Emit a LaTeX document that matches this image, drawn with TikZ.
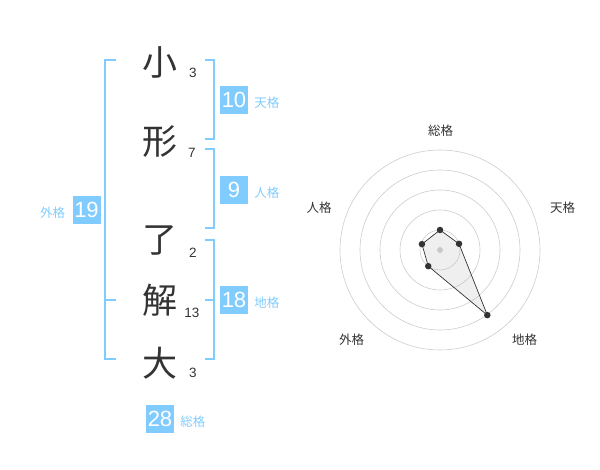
\documentclass[tikz,border=0pt]{standalone}
\usepackage{fontspec}
\setmainfont{Liberation Sans}
\newfontfamily\cjk{Noto Sans CJK JP}
\usetikzlibrary{positioning}
\definecolor{kakublue}{RGB}{128,204,255}
\definecolor{inkgray}{RGB}{51,51,51}

\begin{document}
\begin{tikzpicture}[
    x=1pt, y=-1pt,
    kanji/.style={font=\cjk\fontsize{35}{35}\selectfont, text=inkgray, inner sep=0pt},
    strokes/.style={font=\fontsize{13.5}{13.5}\selectfont, text=inkgray, inner sep=0pt},
    score/.style={fill=kakublue, text=white, minimum size=28pt, inner sep=0pt,
                  font=\fontsize{22}{22}\selectfont},
    kaku/.style={font=\cjk\fontsize{12.5}{12.5}\selectfont, text=kakublue, inner sep=0pt,
                 yshift=-3pt},
    brace/.style={draw=kakublue, line width=2pt},
    axislabel/.style={font=\cjk\fontsize{12.5}{12.5}\selectfont, text=inkgray, inner sep=0pt},
    ring/.style={draw=black!20, line width=0.6pt},
    dot/.style={circle, fill=inkgray, inner sep=0pt, minimum size=6.5pt},
]
  \useasboundingbox (0,0) rectangle (600,470);

  % name, one character per line
  \node[kanji] (c1) at (160,62) {小};
  \node[kanji] (c2) at (160,142) {形};
  \node[kanji] (c3) at (160,240) {了};
  \node[kanji] (c4) at (160,300) {解};
  \node[kanji] (c5) at (160,363) {大};

  \node[strokes] (s1) at (193,73) {3};
  \node[strokes] (s2) at (192,153) {7};
  \node[strokes] (s3) at (193,253) {2};
  \node[strokes] (s4) at (192,313) {13};
  \node[strokes] (s5) at (193,373) {3};

  % brackets
  \draw[brace] (116,60) -- (105,60) -- (105,359) -- (116,359);
  \draw[brace] (105,300) -- (116,300);
  \draw[brace] (205,60) -- (214,60) -- (214,139) -- (205,139);
  \draw[brace] (205,149) -- (214,149) -- (214,228) -- (205,228);
  \draw[brace] (205,240) -- (214,240) -- (214,359) -- (205,359);
  \draw[brace] (205,300) -- (214,300);

  % scores
  \node[score] (ten) at (234,100) {10};
  \node[score] (jin) at (234,190) {9};
  \node[score] (chi) at (234,300) {18};
  \node[score] (gai) at (86.5,210) {19};
  \node[score] (sou) at (160,419) {28};

  \node[kaku, right=6pt of ten] (tenl) {天格};
  \node[kaku, right=6pt of jin] (jinl) {人格};
  \node[kaku, right=6pt of chi] (chil) {地格};
  \node[kaku, left=7pt of gai] (gail) {外格};
  \node[kaku, right=6pt of sou] (soul) {総格};

  % radar chart
  \begin{scope}[shift={(440,250)}, yscale=-1]
    \foreach \r in {20,40,60,80,100}
      \draw[ring] (0,0) circle (\r);
    \fill[black!20] (0,0) circle (3);
    \coordinate (psou) at (90:20);
    \coordinate (pten) at (18:20);
    \coordinate (pchi) at (-54:80.5);
    \coordinate (pgai) at (-126:20);
    \coordinate (pjin) at (162:19);
    \draw[draw=inkgray, line width=0.7pt, fill=black!25, fill opacity=0.25]
      (psou) -- (pten) -- (pchi) -- (pgai) -- (pjin) -- cycle;
    \foreach \p in {psou,pten,pchi,pgai,pjin}
      \node[dot] at (\p) {};
  \end{scope}

  \node[axislabel] (asou) at (440.5,131) {総格};
  \node[axislabel] (aten) at (562.5,208) {天格};
  \node[axislabel] (ajin) at (319,208) {人格};
  \node[axislabel] (agai) at (351.5,340) {外格};
  \node[axislabel] (achi) at (524.5,340) {地格};
\end{tikzpicture}
\end{document}
